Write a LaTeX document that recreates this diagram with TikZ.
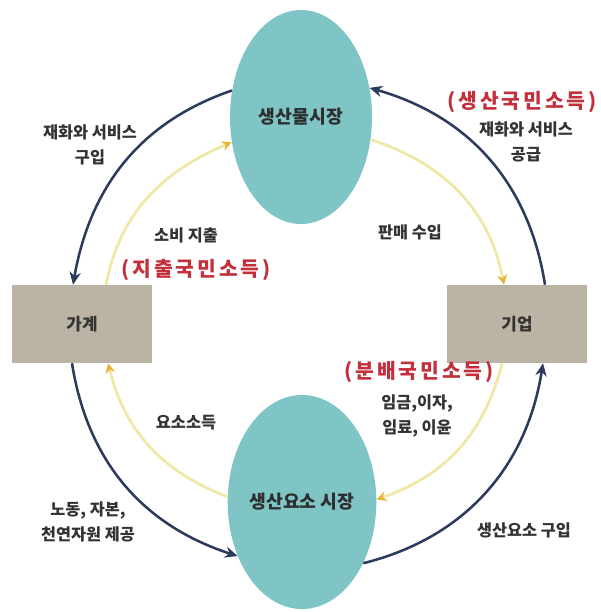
\documentclass[tikz,border=0pt]{standalone}
\usepackage{fontspec}
\setmainfont{Noto Sans CJK KR}
\newfontfamily\redfont[LetterSpace=14]{Noto Sans CJK KR}
\usetikzlibrary{arrows.meta,shapes.geometric,calc}
\definecolor{navy}{HTML}{2C3A5C}
\definecolor{teal}{HTML}{80C5C5}
\definecolor{tan}{HTML}{BBB3A4}
\definecolor{pale}{HTML}{EFE8A6}
\definecolor{gold}{HTML}{E6B634}
\definecolor{kred}{HTML}{C42F3C}
\definecolor{ink}{HTML}{333333}
\begin{document}
\begin{tikzpicture}[x=0.025cm,y=0.025cm,
  mkt/.style={ellipse,fill=teal,draw=none,minimum width=3.55cm,minimum height=5.35cm,inner sep=0pt,
    font=\fontsize{13}{15}\selectfont\bfseries,text=ink!90!black},
  agent/.style={rectangle,fill=tan,draw=none,minimum width=3.5cm,minimum height=1.95cm,inner sep=0pt,
    font=\fontsize{12}{14}\selectfont\bfseries,text=ink},
  outer/.style={draw=navy,line width=1.8pt,-{Stealth[length=9pt,width=8pt]}},
  inner/.style={draw=pale,line width=2pt,-{Stealth[length=7pt,width=7pt,color=gold]}},
  lbl/.style={font=\fontsize{11.6}{18}\selectfont\bfseries,text=ink,align=center,inner sep=0pt},
  rlbl/.style={font=\fontsize{14.5}{16}\selectfont\bfseries\redfont,text=kred,inner sep=0pt}
]
\useasboundingbox[fill=white] (0,0) rectangle (600,612);
\node[mkt] (top) at (301,495) {생산물시장};
\node[mkt] (bot) at (302,110) {생산요소 시장};
\node[agent] (hh) at (82,288) {가계};
\node[agent] (fm) at (517,288) {기업};
% outer flows
\draw[outer] (top.159) to[out=199,in=80] ([xshift=-0.225cm]hh.north);
\draw[outer] ([xshift=-0.25cm]hh.south) to[out=-81,in=162] (bot.220);
\draw[outer] (bot.-45) to[out=14,in=261] ([xshift=0.65cm]fm.south);
\draw[outer] ([xshift=0.7cm]fm.north) to[out=99,in=-16] (top.23);
% inner flows
\draw[inner] ([xshift=0.6cm]hh.north) to[out=79,in=203] (top.200);
\draw[inner] (bot.176) to[out=159,in=-76] ([xshift=0.65cm]hh.south);
\draw[inner] (top.-18) to[out=-18,in=101] ([xshift=-0.325cm]fm.north);
\draw[inner] ([xshift=-0.375cm]fm.south) to[out=256,in=19] (bot.2);
% labels
\node[lbl] (l1) at (90,467) {재화와 서비스\\구입};
\node[rlbl] (r1) at (522,510) {(생산국민소득)};
\node[lbl] (l2) at (526,470) {재화와 서비스\\공급};
\node[lbl] (l3) at (186,377) {소비 지출};
\node[rlbl] (r2) at (196,342) {(지출국민소득)};
\node[lbl] (l4) at (410,380) {판매 수입};
\node[rlbl] (r3) at (419,240) {(분배국민소득)};
\node[lbl] (l5) at (417,196) {임금,이자,\\임료, 이윤};
\node[lbl] (l6) at (186,189) {요소소득};
\node[lbl] (l7) at (88,90) {노동, 자본,\\천연자원 제공};
\node[lbl] (l8) at (524,82) {생산요소 구입};
\end{tikzpicture}
\end{document}
